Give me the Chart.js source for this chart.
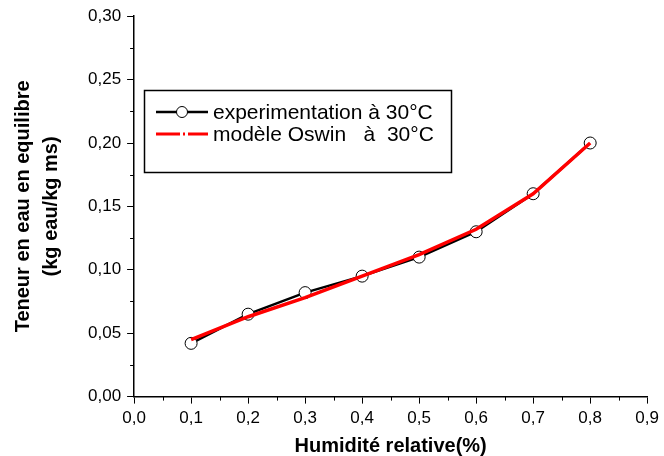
<!DOCTYPE html>
<html>
<head>
<meta charset="utf-8">
<script src="https://cdn.jsdelivr.net/npm/chart.js@4"></script>
<style>
  body { margin: 0; background: #fff; }
  #wrap { width: 664px; height: 456px; }
</style>
</head>
<body>
<div id="wrap"><canvas id="myChart"></canvas></div>
<script>
/* data */
var humidite = [0.1, 0.2, 0.3, 0.4, 0.5, 0.6, 0.7, 0.8];
var experimentation = [0.042, 0.065, 0.082, 0.095, 0.110, 0.130, 0.160, 0.200];
var oswin = [0.045, 0.063, 0.078, 0.095, 0.112, 0.132, 0.160, 0.200];
var labelExp = 'experimentation à 30°C';
var labelOswin = 'modèle Oswin   à  30°C';

function points(xs, ys){
    var out = [];
    for (var i = 0; i < xs.length; i++){
        out.push({x: xs[i], y: ys[i]});
    }
    return out;
}

function comma(v, d){
    return Number(v).toFixed(d).replace('.', ',');
}

// minor ticks + legend box drawn on top
var extras = {
    id: 'extras',
    afterDraw: function(chart){
        var c = chart.ctx;
        var xs = chart.scales.x, ys = chart.scales.y;
        c.save();
        c.strokeStyle = '#000';
        c.lineWidth = 1;
        var v, p;
        for (v = 0.05; v < 0.9; v += 0.1){
            p = Math.round(xs.getPixelForValue(v)) + 0.5;
            c.beginPath(); c.moveTo(p, ys.bottom); c.lineTo(p, ys.bottom + 4); c.stroke();
        }
        for (v = 0.025; v < 0.3; v += 0.05){
            p = Math.round(ys.getPixelForValue(v)) + 0.5;
            c.beginPath(); c.moveTo(xs.left, p); c.lineTo(xs.left - 4, p); c.stroke();
        }

        // legend
        c.lineWidth = 1.5;
        c.strokeRect(144.5, 90.5, 307, 82);
        c.font = '21px "Liberation Sans", Arial, sans-serif';
        c.fillStyle = '#000';
        c.textBaseline = 'middle';

        c.strokeStyle = '#000';
        c.lineWidth = 2.5;
        c.beginPath(); c.moveTo(156, 112); c.lineTo(208, 112); c.stroke();
        c.lineWidth = 1;
        c.fillStyle = '#fff';
        c.beginPath(); c.arc(182, 112, 5.5, 0, Math.PI * 2); c.fill(); c.stroke();
        c.fillStyle = '#000';
        c.fillText(labelExp, 213, 113);

        c.strokeStyle = '#ff0000';
        c.lineWidth = 3;
        c.setLineDash([24, 3, 2, 3]);
        c.beginPath(); c.moveTo(156, 134); c.lineTo(208, 134); c.stroke();
        c.setLineDash([]);
        c.fillText(labelOswin, 213, 135);
        c.restore();
    }
};

const ctx = document.getElementById('myChart');
new Chart(ctx, {
    type: 'line',
    data: {
        datasets: [{
            label: labelExp,
            data: points(humidite, experimentation),
            borderColor: '#000',
            borderWidth: 2.5,
            pointRadius: 6,
            pointBorderWidth: 1,
            pointBorderColor: '#000',
            pointBackgroundColor: '#fff',
            tension: 0,
            order: 1
        }, {
            label: labelOswin,
            data: points(humidite, oswin),
            borderColor: '#ff0000',
            borderWidth: 3.5,
            pointRadius: 0,
            tension: 0,
            order: 0
        }]
    },
    options: {
        responsive: true,
        maintainAspectRatio: false,
        animation: false,
        layout: { padding: { left: 9, right: 9, top: 13, bottom: 0 } },
        plugins: {
            legend: { display: false },
            tooltip: { enabled: false }
        },
        scales: {
            x: {
                type: 'linear',
                min: 0, max: 0.9,
                border: { color: '#000', width: 1.5 },
                grid: { drawOnChartArea: false, color: '#000', tickLength: 7 },
                ticks: {
                    stepSize: 0.1,
                    color: '#000',
                    padding: 5,
                    font: { family: '"Liberation Sans", Arial', size: 17 },
                    callback: function(v){ return comma(v, 1); }
                },
                title: {
                    display: true,
                    text: 'Humidité relative(%)',
                    color: '#000',
                    padding: { top: 2, bottom: 0 },
                    font: { family: '"Liberation Sans", Arial', size: 20, weight: 'bold', lineHeight: 1.0 }
                }
            },
            y: {
                min: 0, max: 0.3,
                border: { color: '#000', width: 1.5 },
                grid: { drawOnChartArea: false, color: '#000', tickLength: 7 },
                ticks: {
                    stepSize: 0.05,
                    color: '#000',
                    padding: 6,
                    font: { family: '"Liberation Sans", Arial', size: 17 },
                    callback: function(v){ return comma(v, 2); }
                },
                title: {
                    display: true,
                    text: ['Teneur en eau en equilibre', '(kg eau/kg ms)'],
                    color: '#000',
                    padding: { top: 0, bottom: 17 },
                    font: { family: '"Liberation Sans", Arial', size: 20, weight: 'bold', lineHeight: 1.4 }
                }
            }
        }
    },
    plugins: [extras]
});
</script>
</body>
</html>
